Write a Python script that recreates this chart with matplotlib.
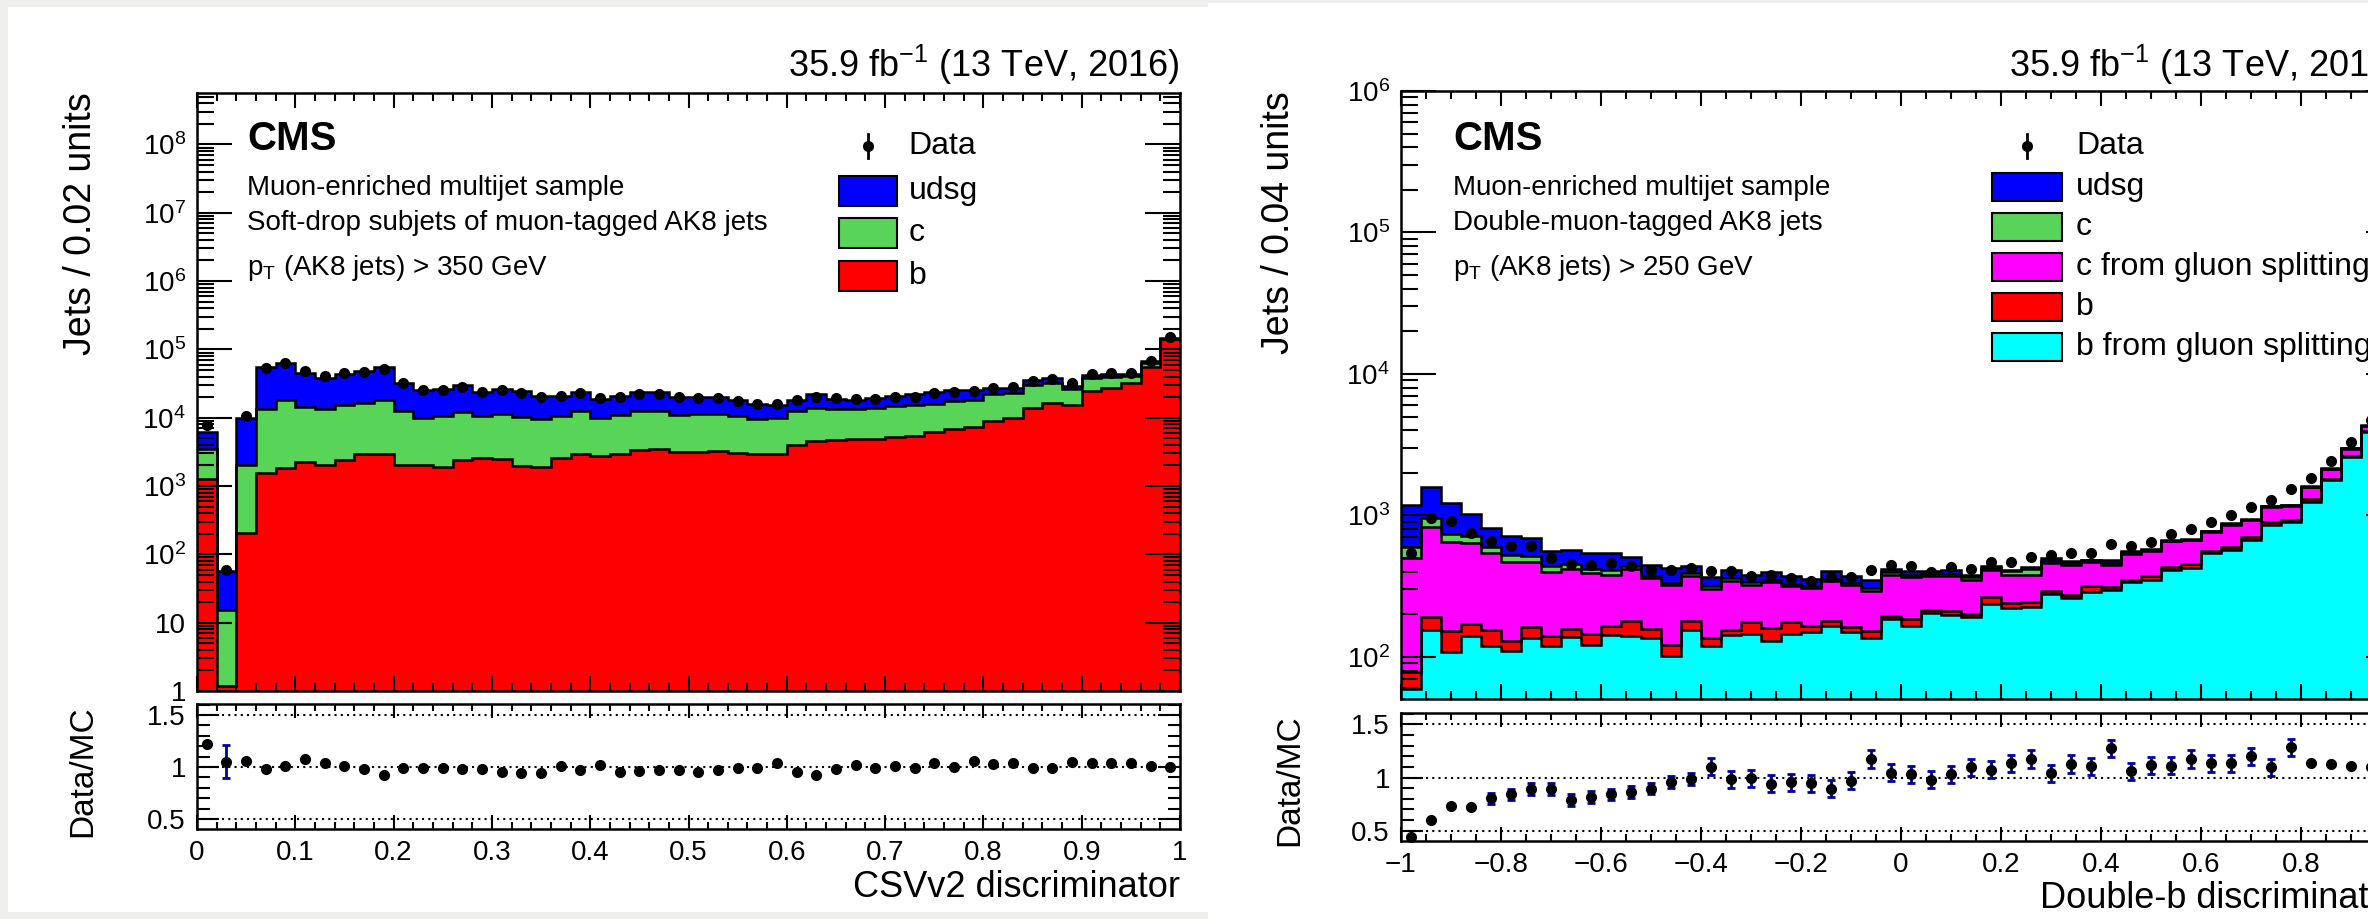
import numpy as np
import matplotlib
matplotlib.use("Agg")
import matplotlib.pyplot as plt
from matplotlib.patches import Rectangle
from matplotlib.ticker import MultipleLocator, FixedLocator, LogLocator, NullFormatter, FuncFormatter

plt.rcParams['font.family'] = ['Liberation Sans', 'DejaVu Sans']
plt.rcParams['mathtext.fontset'] = 'custom'
plt.rcParams['mathtext.rm'] = 'Liberation Sans'
plt.rcParams['mathtext.it'] = 'Liberation Sans:italic'
plt.rcParams['mathtext.bf'] = 'Liberation Sans:bold'
plt.rcParams['mathtext.default'] = 'regular'

# ---------------- left panel: CSVv2, 50 bins of 0.02 ----------------
csv_b = [1280, 1.2, 203, 1570, 1830, 2270, 2000, 2430, 2940, 2940,
         2030, 2000, 1920, 2380, 2600, 2460, 1940, 1920, 2540, 2900,
         2720, 2970, 3400, 3520, 3180, 3150, 3250, 3040, 2970, 2900,
         3940, 4560, 4660, 4930, 4820, 5270, 5450, 6240, 6900, 7300,
         8930, 10000, 14000, 16580, 15310, 24560, 27480, 32500, 55720, 140000]
csv_c = [2240, 14.3, 1830, 11970, 16100, 12050, 11200, 12900, 13500, 15200,
         10500, 7890, 8660, 9870, 8100, 8740, 8290, 7540, 7930, 9630,
         7060, 8090, 9130, 9010, 7880, 8050, 7950, 7540, 6690, 7100,
         8590, 9440, 8580, 8310, 9180, 9550, 9860, 9790, 10640, 11030,
         13510, 13220, 15720, 15200, 10690, 13900, 11880, 8240, 8110, 3300]
csv_udsg = [2650, 41.5, 7970, 41560, 44500, 31300, 25300, 28700, 31800, 37550,
            20000, 15800, 15700, 17450, 13300, 14800, 14600, 11540, 10530, 11470,
            8970, 9940, 11220, 10970, 9000, 8860, 8860, 7570, 6010, 5310,
            5620, 7950, 5730, 5090, 5180, 5930, 6640, 7720, 7580, 7370,
            5040, 4260, 5470, 5860, 3040, 3620, 3680, 2300, 3610, 4900]
csv_data = [7700, 60, 10500, 54000, 63800, 48200, 40700, 44560, 46600, 50900,
            32150, 25400, 25400, 28400, 24000, 25100, 22960, 19860, 20750, 23200,
            19180, 19860, 22450, 22200, 19860, 19180, 19180, 17540, 15850, 16030,
            17950, 19860, 19410, 18540, 18750, 20290, 20290, 22700, 24000, 24840,
            27170, 28440, 34400, 36400, 31780, 43040, 44560, 44560, 67440, 151400]
csv_ratio = [1.226, 1.05, 1.055, 0.977, 1.01, 1.08, 1.04, 1.006, 0.977, 0.92,
             0.99, 0.99, 0.99, 0.977, 0.984, 0.95, 0.94, 0.94, 1.01, 0.97,
             1.016, 0.955, 0.96, 0.97, 0.97, 0.95, 0.97, 0.99, 0.99, 1.04,
             0.955, 0.92, 0.98, 1.016, 0.99, 1.01, 0.99, 1.035, 1.0, 1.055,
             1.026, 1.04, 0.99, 0.99, 1.05, 1.04, 1.035, 1.035, 1.01, 1.0]
csv_ratio_err = [0, 0.16] + [0] * 48

# ---------------- right panel: double-b, 50 bins of 0.04 ----------------
dbb_bgsp = [59.4, 156, 108.5, 141.5, 120.3, 109.7, 136, 119, 137.7, 122,
            144, 141.5, 136, 101, 154, 119, 144, 145, 129, 145,
            150, 165, 151, 136, 185.6, 166.4, 204.6, 199, 190.5, 236.8,
            222, 225.6, 278.6, 261, 288, 296, 337, 351.8, 414, 425.6,
            543, 567, 674.5, 861, 894, 1245, 1791, 2590, 3867, 9000]
dbb_b = [18.9, 34.6, 43.3, 30.5, 35.7, 19.3, 26, 22.5, 20.9, 23,
         21, 37.1, 22.6, 20, 25.7, 16.5, 12, 30.8, 31.3, 31.6,
         15, 13.6, 12.8, 15.8, 10.2, 19.2, 8.8, 11, 10.7, 28.7,
         18.8, 17.6, 15.6, 14.6, 31, 14.6, 14.8, 19.5, 18.5, 30.7,
         14.8, 31.4, 30.2, 33, 29.5, 62, 29, 56, 108, 200]
dbb_cgsp = [422.7, 638.4, 494.2, 467, 387, 340, 307, 255.5, 260.4, 247,
            215, 240.4, 201.4, 200, 196.3, 166.5, 190, 147.2, 176.7, 139.4,
            140.6, 167.4, 159.2, 142.2, 185.8, 181.7, 157.9, 161.3, 150.6, 148.5,
            140.8, 138.4, 167.4, 171.3, 150.2, 138.4, 185.7, 186.5, 223.5, 210.7,
            206.6, 262.6, 218.8, 254, 249.5, 283, 311, 319, 289, 400]
dbb_c = [95, 131, 93, 73, 56, 60, 51, 40, 35, 29,
         30, 23, 16, 14, 16, 14, 14, 14, 11, 14,
         13.4, 8, 12, 11.6, 14.4, 10.1, 16.6, 16.6, 13.7, 11.6,
         21.1, 37.2, 15.3, 14.7, 12.8, 12.6, 12, 15.4, 7.7, 7.5,
         8.6, 14, 9.5, 12, 13, 8, 12, 15, 48, 30]
dbb_udsg = [597, 621, 486, 318, 217, 191, 173, 127, 119, 122,
            133, 64, 73, 90.6, 45, 50, 50, 41, 51, 46,
            36.8, 51.4, 41, 42.4, 22.8, 25.3, 19.5, 26.1, 16.1, 11.4,
            6.8, 11, 23.8, 12.8, 5.2, 25.6, 14.4, 9.4, 3.3, 3.5,
            4, 10, 11, 13, 6, 8, 9, 19, 23, 30]
dbb_data = [543, 960, 909, 752, 664, 612, 612, 501, 457, 449,
            461, 437, 410, 410, 425.6, 403, 403, 376, 378, 361.6,
            342.6, 365.6, 365.6, 410, 449, 437, 396.3, 432.5, 420.8, 469,
            469, 508.8, 528.5, 543, 543, 632, 604.9, 649.4, 739.6, 803,
            894, 1002, 1148, 1279, 1539, 1829, 2427, 3306, 4753, 10800]
dbb_ratio = [0.446, 0.604, 0.737, 0.722, 0.804, 0.842, 0.889, 0.889, 0.788, 0.82,
             0.842, 0.864, 0.896, 0.959, 0.984, 1.10, 0.984, 0.994, 0.943, 0.956,
             0.946, 0.896, 0.968, 1.174, 1.047, 1.032, 0.978, 1.032, 1.095, 1.073,
             1.136, 1.174, 1.041, 1.127, 1.104, 1.275, 1.057, 1.117, 1.111, 1.174,
             1.136, 1.136, 1.199, 1.095, 1.285, 1.136, 1.127, 1.104, 1.10, 1.12]
dbb_ratio_err = [0, 0, 0, 0] + [0.055] * 11 + [0.08] * 30 + [0] * 5

csv_edges = np.linspace(0, 1, 51)
dbb_edges = np.linspace(-1, 1, 51)

udsg_col, c_col, b_col = '#0000ff', '#58d458', '#ff0000'
cgsp_col, bgsp_col = '#ff00ff', '#00ffff'
err_col = '#000099'

W, H = 2368, 919
fig = plt.figure(figsize=(W / 100, H / 100), dpi=100)
fig.patch.set_facecolor('#eff0ed')
fig.add_artist(Rectangle((8 / W, 7 / H), 1200 / W, 905 / H, transform=fig.transFigure,
                         facecolor='white', edgecolor='none', zorder=-10))
fig.add_artist(Rectangle((1208 / W, 0), (W - 1208) / W, (H - 3) / H, transform=fig.transFigure,
                         facecolor='white', edgecolor='none', zorder=-10))


def draw_stack(ax, edges, comps, colors, floor):
    cum = np.cumsum(np.vstack(comps), axis=0)
    for level, col in reversed(list(zip(cum, colors))):
        ax.stairs(level, edges, baseline=floor, fill=True, facecolor=col, edgecolor='none')
    for level in cum:
        ax.stairs(level, edges, baseline=None, color='black', lw=1.8)


def log_label(v, pos):
    if v <= 0:
        return ''
    n = int(round(np.log10(v)))
    if n == 0:
        return '1'
    if n == 1:
        return '10'
    return '$10^{%d}$' % n


def style_main(ax, major, minor):
    ax.set_yscale('log')
    ax.yaxis.set_major_locator(LogLocator(base=10, numticks=20))
    ax.yaxis.set_minor_locator(LogLocator(base=10, subs=np.arange(2, 10), numticks=20))
    ax.yaxis.set_major_formatter(FuncFormatter(log_label))
    ax.yaxis.set_minor_formatter(NullFormatter())
    ax.xaxis.set_major_locator(MultipleLocator(major))
    ax.xaxis.set_minor_locator(MultipleLocator(minor))
    ax.tick_params(which='both', direction='in', top=True, right=True, width=1.5, labelsize=20, pad=8)
    ax.tick_params(axis='y', which='major', length=25)
    ax.tick_params(axis='y', which='minor', length=12)
    ax.tick_params(axis='x', which='major', length=11)
    ax.tick_params(axis='x', which='minor', length=5.5)
    ax.tick_params(axis='x', labelbottom=False)
    for s in ax.spines.values():
        s.set_linewidth(1.8)


def style_ratio(ax, major, minor):
    ax.set_ylim(0.404, 1.606)
    ax.yaxis.set_major_locator(FixedLocator([0.5, 1.0, 1.5]))
    ax.yaxis.set_minor_locator(MultipleLocator(0.1))
    ax.yaxis.set_major_formatter(FuncFormatter(lambda v, p: '%g' % v))
    ax.xaxis.set_major_locator(MultipleLocator(major))
    ax.xaxis.set_minor_locator(MultipleLocator(minor))
    ax.xaxis.set_major_formatter(FuncFormatter(lambda v, p: ('%g' % round(v, 2)).replace('-', '\u2212')))
    ax.tick_params(which='both', direction='in', top=True, right=True, width=1.5, labelsize=20, pad=8)
    ax.tick_params(axis='y', which='major', length=16)
    ax.tick_params(axis='y', which='minor', length=9)
    ax.tick_params(axis='x', which='major', length=10)
    ax.tick_params(axis='x', which='minor', length=5)
    for v in (0.5, 1.0, 1.5):
        ax.axhline(v, color='black', ls=(0, (1, 2)), lw=1.5, zorder=1)
    for s in ax.spines.values():
        s.set_linewidth(1.8)


def ratio_points(ax, edges, ratio, err):
    centers = 0.5 * (edges[1:] + edges[:-1])
    ratio = np.array(ratio)
    err = np.array(err)
    m = err > 0
    ax.errorbar(centers[m], ratio[m], yerr=err[m], fmt='none', ecolor=err_col,
                elinewidth=2, capsize=3, capthick=2, zorder=3)
    ax.plot(centers, ratio, 'o', color='black', ms=7, zorder=4, clip_on=False)


def legend(ax, entries, xm, xb, wb, hb, xt, ys, dy):
    ax.plot([xm], [ys[0]], 'o', color='black', ms=7, transform=ax.transAxes)
    ax.plot([xm, xm], [ys[0] - dy, ys[0] + dy], color='black', lw=2, transform=ax.transAxes)
    ax.text(xt, ys[0], 'Data', transform=ax.transAxes, fontsize=23, va='center')
    for (name, col), y in zip(entries, ys[1:]):
        ax.add_patch(Rectangle((xb, y - hb / 2), wb, hb, transform=ax.transAxes,
                               facecolor=col, edgecolor='black', lw=1.5))
        ax.text(xt, y, name, transform=ax.transAxes, fontsize=23, va='center')


# ---------------- left ----------------
axL = fig.add_axes([197 / W, (H - 691) / H, 983 / W, 598.3 / H])
axLr = fig.add_axes([197 / W, (H - 829) / H, 983 / W, 125 / H])

draw_stack(axL, csv_edges, [csv_b, csv_c, csv_udsg], [b_col, c_col, udsg_col], 1e-2)
centers = 0.5 * (csv_edges[1:] + csv_edges[:-1])
axL.plot(centers, csv_data, 'o', color='black', ms=7, zorder=5)
style_main(axL, 0.1, 0.02)
axL.set_xlim(0, 1)
axL.set_ylim(1, 10 ** 8.757)

axL.text(1.0, 1.026, '35.9 fb$^{-1}$ (13 TeV, 2016)', transform=axL.transAxes,
         ha='right', va='baseline', fontsize=26)
axL.text(0.051, 0.954, 'CMS', transform=axL.transAxes, fontsize=29, fontweight='bold', va='top')
axL.text(0.051, 0.841, 'Muon-enriched multijet sample', transform=axL.transAxes, fontsize=20, va='center')
axL.text(0.051, 0.782, 'Soft-drop subjets of muon-tagged AK8 jets', transform=axL.transAxes,
         fontsize=20, va='center')
axL.text(0.051, 0.707, 'p$_{T}$ (AK8 jets) > 350 GeV', transform=axL.transAxes, fontsize=20, va='center')
legend(axL, [('udsg', udsg_col), ('c', c_col), ('b', b_col)],
       0.6826, 0.653, 0.059, 0.050, 0.724, [0.911, 0.836, 0.766, 0.694], 0.02)

ratio_points(axLr, csv_edges, csv_ratio, csv_ratio_err)
style_ratio(axLr, 0.1, 0.02)
axLr.set_xlim(0, 1)

fig.text(0.034, 1 - 92.7 / H, 'Jets / 0.02 units', rotation=90, fontsize=27, ha='center', va='top')
fig.text(0.035, (H - 771) / H, 'Data/MC', rotation=90, fontsize=24, ha='center', va='center')
fig.text(1180 / W, (H - 897) / H, 'CSVv2 discriminator', fontsize=26, ha='right', va='baseline')

# ---------------- right ----------------
axR = fig.add_axes([1401 / W, (H - 699) / H, 1000 / W, 608 / H])
axRr = fig.add_axes([1401 / W, (H - 841) / H, 1000 / W, 128 / H])

draw_stack(axR, dbb_edges, [dbb_bgsp, dbb_b, dbb_cgsp, dbb_c, dbb_udsg],
           [bgsp_col, b_col, cgsp_col, c_col, udsg_col], 1.0)
centers = 0.5 * (dbb_edges[1:] + dbb_edges[:-1])
axR.plot(centers, dbb_data, 'o', color='black', ms=7, zorder=5)
style_main(axR, 0.2, 0.05)
axR.set_xlim(-1, 1)
axR.set_ylim(10 ** 1.703, 1e6)

axR.text(1.0, 1.023, '35.9 fb$^{-1}$ (13 TeV, 2016)', transform=axR.transAxes,
         ha='right', va='baseline', fontsize=26)
axR.text(0.052, 0.952, 'CMS', transform=axR.transAxes, fontsize=29, fontweight='bold', va='top')
axR.text(0.052, 0.840, 'Muon-enriched multijet sample', transform=axR.transAxes, fontsize=20, va='center')
axR.text(0.052, 0.783, 'Double-muon-tagged AK8 jets', transform=axR.transAxes, fontsize=20, va='center')
axR.text(0.052, 0.709, 'p$_{T}$ (AK8 jets) > 250 GeV', transform=axR.transAxes, fontsize=20, va='center')
legend(axR, [('udsg', udsg_col), ('c', c_col), ('c from gluon splitting', cgsp_col),
             ('b', b_col), ('b from gluon splitting', bgsp_col)],
       0.626, 0.591, 0.070, 0.046, 0.675, [0.9095, 0.842, 0.776, 0.711, 0.645, 0.579], 0.02)

ratio_points(axRr, dbb_edges, dbb_ratio, dbb_ratio_err)
style_ratio(axRr, 0.2, 0.05)
axRr.set_xlim(-1, 1)

fig.text(1279 / W, 1 - 91 / H, 'Jets / 0.04 units', rotation=90, fontsize=27, ha='center', va='top')
fig.text(1290 / W, (H - 780) / H, 'Data/MC', rotation=90, fontsize=24, ha='center', va='center')
fig.text(2401 / W, (H - 908) / H, 'Double-b discriminator', fontsize=26, ha='right', va='baseline')

fig.savefig('out.png', dpi=100)
